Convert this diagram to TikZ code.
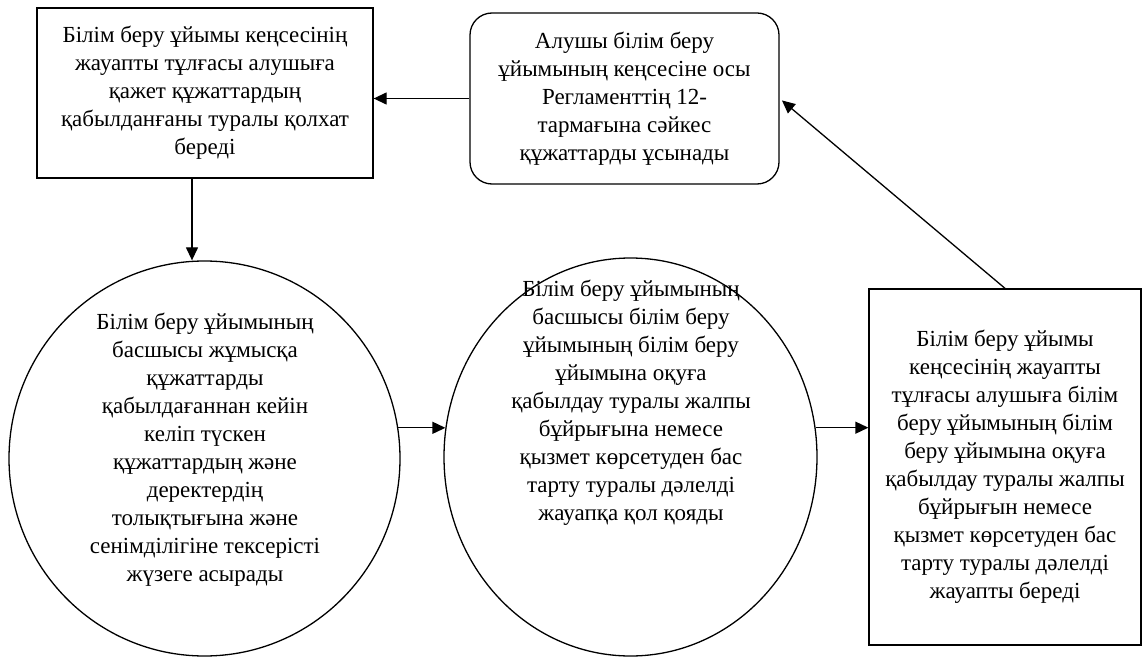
\documentclass[tikz,border=0pt]{standalone}
\usepackage{fontspec}
\setmainfont{Liberation Serif}
\usetikzlibrary{arrows.meta,shapes.geometric}
\begin{document}
\begin{tikzpicture}[x=1pt,y=-1pt,
  every node/.style={font=\fontsize{23}{28}\selectfont, align=center},
  boxshape/.style={draw, line width=1.3pt, inner sep=0pt},
  roundshape/.style={draw, line width=1.3pt, rounded corners=22pt, inner sep=0pt},
  ovalshape/.style={draw, ellipse, line width=1.3pt, inner sep=0pt},
  txt/.style={inner sep=0pt},
  arr/.style={line width=1.3pt, -{Triangle[length=13pt,width=12pt]}}]
\useasboundingbox (0,0) rectangle (1145,660);
\node[boxshape, minimum width=336pt, minimum height=170pt] (b1) at (205,93)
  {Білім беру ұйымы кеңсесінің\\жауапты тұлғасы алушыға\\қажет құжаттардың\\қабылданғаны туралы қолхат\\береді};
\node[roundshape, minimum width=309pt, minimum height=171pt] (b2) at (624.5,98.5)
  {Алушы білім беру\\ұйымының кеңсесіне осы\\Регламенттің 12-\\тармағына сәйкес\\құжаттарды ұсынады};
\node[boxshape, minimum width=272pt, minimum height=356pt] (r3) at (1005,467)
  {Білім беру ұйымы\\кеңсесінің жауапты\\тұлғасы алушыға білім\\беру ұйымының білім\\беру ұйымына оқуға\\қабылдау туралы жалпы\\бұйрығын немесе\\қызмет көрсетуден бас\\тарту туралы дәлелді\\жауапты береді};
\node[ovalshape, minimum width=391pt, minimum height=395pt] (c1) at (204.5,458.5) {};
\node[txt] (c1t) at (205,450)
  {Білім беру ұйымының\\басшысы жұмысқа\\құжаттарды\\қабылдағаннан кейін\\келіп түскен\\құжаттардың және\\деректердің\\толықтығына және\\сенімділігіне тексерісті\\жүзеге асырады};
\node[ovalshape, minimum width=373pt, minimum height=398pt] (c2) at (630.5,457) {};
\node[txt] (c2t) at (631,403)
  {Білім беру ұйымының\\басшысы білім беру\\ұйымының білім беру\\ұйымына оқуға\\қабылдау туралы жалпы\\бұйрығына немесе\\қызмет көрсетуден бас\\тарту туралы дәлелді\\жауапқа қол қояды};
\draw[arr] (b2.west) -- (b2.west -| b1.east);
\draw[arr] ([xshift=-13pt]b1.south) -- ([xshift=-13pt]b1.south |- c1.north);
\draw[arr] (c1.9) -- (c1.9 -| c2.171);
\draw[arr] (c2.9) -- (c2.9 -| r3.west);
\draw[arr, shorten >=3pt] (r3.north) -- (b2.east);
\end{tikzpicture}
\end{document}
